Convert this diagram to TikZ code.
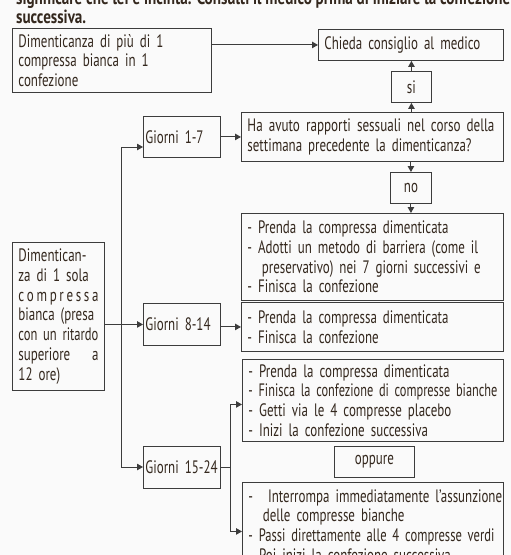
\documentclass[tikz,border=0pt]{standalone}
\usepackage{fontspec}
\usepackage{graphicx}
\setmainfont{PT Sans}[FakeStretch=0.72]
\usetikzlibrary{arrows.meta,calc}
\definecolor{txt}{RGB}{52,40,30}
\definecolor{ln}{RGB}{60,60,60}
\definecolor{bg}{RGB}{250,250,250}
\newcommand\fitto[2]{\resizebox{#1}{\height}{#2}}
\begin{document}
\begin{tikzpicture}[x=1pt,y=-1pt,
  font=\fontsize{18}{19.8}\selectfont, text=txt,
  box/.style={draw=ln, line width=0.9pt, anchor=north west, inner xsep=6pt, inner ysep=2pt, align=left},
  gbox/.style={box, minimum width=77pt, text width=73pt, inner xsep=2pt},
  arr/.style={draw=ln, line width=1pt, -{Triangle[length=6pt,width=6.5pt]}},
  lnk/.style={draw=ln, line width=1pt}]
\fill[bg] (0,0) rectangle (511,555);
\useasboundingbox (0,0) rectangle (511,555);
% top text
\node[anchor=base west, inner sep=0, font=\fontsize{19}{20}\selectfont\bfseries] (top1) at (16,4) {\fitto{494pt}{significare che lei è incinta. Consulti il medico prima di iniziare la confezione}};
\node[anchor=base west, inner sep=0, font=\fontsize{19}{20}\selectfont\bfseries] (top2) at (16,23) {\fitto{70pt}{successiva.}};
% boxes
\node[box, minimum width=199pt, minimum height=64pt, text width=187pt] (boxA) at (12,28) {Dimenticanza di più di 1\\compressa bianca in 1\\confezione};
\node[box, minimum width=185pt, minimum height=31pt, text width=173pt] (boxB) at (318,29) {Chieda consiglio al medico};
\node[box, minimum width=40pt, minimum height=31pt, text width=28pt, align=center] (si) at (391,71) {si};
\node[gbox, minimum height=41pt] (g17) at (143,116) {Giorni 1-7};
\node[box, minimum width=262pt, minimum height=49pt, text width=250pt] (q) at (241,112) {\fitto{247pt}{Ha avuto rapporti sessuali nel corso della}\\settimana precedente la dimenticanza?};
\node[box, minimum width=41pt, minimum height=31pt, text width=29pt, align=center] (no) at (390,172) {no};
\node[box, minimum width=262pt, minimum height=87pt, text width=250pt] (b1) at (241,213) {- Prenda la compressa dimenticata\\\makebox[247pt][s]{- Adotti un metodo di barriera (come il}\\\hspace*{0.8em}preservativo) nei 7 giorni successivi e\\- Finisca la confezione};
\node[box, minimum width=92pt, minimum height=148pt, text width=80pt, inner xsep=6pt] (dim) at (12,242) {%
\makebox[80pt][s]{Dimentican-}\\
\makebox[80pt][s]{za di 1 sola}\\
\makebox[80pt][s]{c\hfill o\hfill m\hfill p\hfill r\hfill e\hfill s\hfill s\hfill a}\\
\makebox[80pt][s]{bianca (presa}\\
\fitto{80pt}{con un ritardo}\\
\makebox[80pt][s]{superiore\hfill a}\\
12 ore)};
\node[gbox, minimum height=42pt] (g814) at (143,303) {Giorni 8-14};
\node[box, minimum width=262pt, minimum height=49pt, text width=250pt] (b2) at (241,302) {- Prenda la compressa dimenticata\\- Finisca la confezione};
\node[box, minimum width=261pt, minimum height=82pt, text width=249pt] (b3) at (242,359) {- Prenda la compressa dimenticata\\\fitto{249pt}{- Finisca la confezione di compresse bianche}\\- Getti via le 4 compresse placebo\\- Inizi la confezione successiva};
\node[gbox, minimum height=42pt] (g1524) at (143,446) {Giorni 15-24};
\node[box, minimum width=80pt, minimum height=31pt, text width=68pt, align=center] (opp) at (334,446) {oppure};
\node[box, minimum width=261pt, minimum height=86pt, text width=249pt] (b4) at (242,482) {\makebox[249pt][s]{-\hspace{0.5em} Interrompa immediatamente l’assunzione}\\\hspace*{0.8em}delle compresse bianche\\\fitto{246pt}{- Passi direttamente alle 4 compresse verdi}\\- Poi inizi la confezione successiva};
% connectors
\draw[arr] (boxA.east |- boxB.west) -- (boxB.west);
\draw[arr] (si.north) -- (si.north |- boxB.south);
\draw[arr] (si.south |- q.north) -- (si.south);
\draw[arr] (no.north |- q.south) -- (no.north);
\draw[arr] (no.south) -- (no.south |- b1.north);
\draw[arr] (g17.east) -- (g17.east -| q.west);
\coordinate (tt) at (121,147);
\coordinate (tb) at (121,467);
\draw[arr] (tb) -- (tt) -- (tt -| g17.west);
\draw[arr] (tb) -- (tb -| g1524.west);
\draw[arr] (dim.east |- g814.west) -- (g814.west);
\draw[arr] (g814.east |- b2.west) -- (b2.west);
\coordinate (br) at (230,467);
\draw[lnk] (g1524.east |- br) -- (br);
\draw[arr] (br) |- ([yshift=-4pt]b3.west);
\draw[arr] (br) |- ([yshift=-6pt]b4.west);
\end{tikzpicture}
\end{document}
